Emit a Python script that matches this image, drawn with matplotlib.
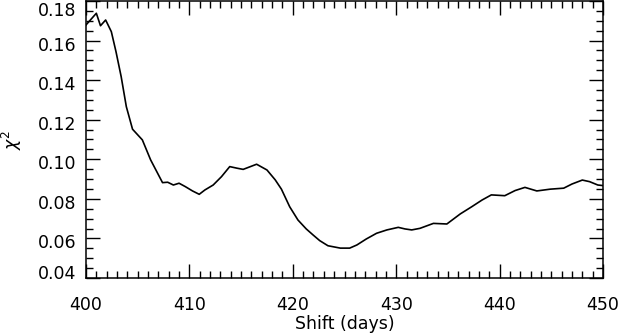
import matplotlib
matplotlib.use('Agg')
import matplotlib.pyplot as plt
import matplotlib.transforms as mtransforms
from matplotlib.ticker import MultipleLocator, FixedLocator

# values
shift = [400.0, 401.0, 401.4, 401.9, 402.45, 402.9, 403.4, 403.9, 404.5, 405.45,
         406.25, 407.4, 407.9, 408.45, 409.0, 409.6, 410.3, 410.95, 411.5, 412.3,
         413.1, 413.9, 414.6, 415.2, 415.9, 416.5, 417.5, 418.3, 418.9, 419.7,
         420.5, 421.3, 421.95, 422.6, 423.4, 423.9, 424.6, 425.5, 426.2, 427.1,
         428.1, 429.1, 430.2, 430.85, 431.5, 432.3, 433.6, 434.9, 436.2, 437.3,
         438.3, 439.2, 440.5, 441.5, 442.45, 443.6, 444.9, 446.2, 447.0, 448.0,
         448.7, 449.5, 450.0]
chi2 = [0.1679, 0.1738, 0.1675, 0.1704, 0.1645, 0.1544, 0.1418, 0.1266, 0.1152, 0.1098,
        0.0997, 0.0882, 0.0884, 0.0870, 0.0879, 0.0862, 0.0840, 0.0823, 0.0845, 0.0870,
        0.0912, 0.0963, 0.0955, 0.0949, 0.0963, 0.0975, 0.0946, 0.0896, 0.0849, 0.0760,
        0.0693, 0.0648, 0.0618, 0.0589, 0.0563, 0.0558, 0.0551, 0.0551, 0.0567, 0.0597,
        0.0626, 0.0643, 0.0656, 0.0648, 0.0643, 0.0651, 0.0676, 0.0673, 0.0724, 0.0760,
        0.0794, 0.0820, 0.0816, 0.0842, 0.0858, 0.0840, 0.0849, 0.0854, 0.0875, 0.0895,
        0.0887, 0.0870, 0.0867]
yticks = [0.04, 0.06, 0.08, 0.10, 0.12, 0.14, 0.16, 0.18]

plt.rcParams['font.family'] = ['DejaVu Sans']
plt.rcParams['font.size'] = 12.5

fig = plt.figure(figsize=(6.2, 3.36), dpi=100)
# axes box in pixels: left 86, right 603, top 1, bottom 278
ax = fig.add_axes([86/620, 1 - 278/336, (603-86)/620, (278-1)/336])
ax.plot(shift, chi2, color='black', lw=1.2)

ax.set_xlim(400, 450)
ax.set_ylim(0.04, 0.18)
ax.xaxis.set_major_locator(MultipleLocator(10))
ax.xaxis.set_minor_locator(MultipleLocator(1))
ax.yaxis.set_major_locator(FixedLocator(yticks))
ax.yaxis.set_minor_locator(MultipleLocator(0.005))
ax.set_yticklabels(['%.2f' % v for v in yticks])

ax.tick_params(which='both', direction='in', top=True, right=True, width=1, color='black')
ax.tick_params(which='major', length=10)
ax.tick_params(which='minor', length=5)
ax.tick_params(axis='x', which='major', pad=13)
ax.tick_params(axis='y', which='major', pad=7)
for s in ax.spines.values():
    s.set_linewidth(1.1)

# IDL-like placement of the y labels: slightly below the tick, end labels kept inside
for i, lab in enumerate(ax.get_yticklabels()):
    dy = -3
    if i == 0:
        dy = 6
    elif i == len(yticks) - 1:
        dy = -8
    lab.set_transform(lab.get_transform() +
                      mtransforms.ScaledTranslation(0, dy / 100, fig.dpi_scale_trans))

ax.set_xlabel('Shift (days)', labelpad=1)
ax.set_ylabel(r'$\chi^2$', labelpad=10)

plt.savefig('out.png', dpi=100)
plt.close()
